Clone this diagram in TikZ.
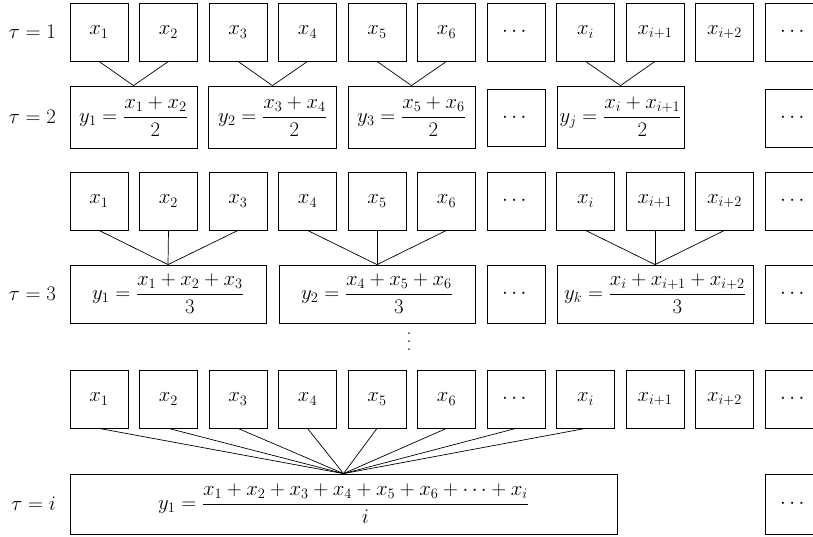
\documentclass[tikz,border=0pt]{standalone}
\usepackage{amsmath}
\usetikzlibrary{positioning}
\tikzset{
  cell/.style={draw, minimum width=58pt, minimum height=58pt, inner sep=0pt},
  mean/.style={draw, minimum height=62pt, inner sep=0pt},
  link/.style={line width=0.7pt},
}
\newcommand{\tallvdots}{\vbox{\baselineskip=8pt\lineskiplimit=0pt\hbox{.}\hbox{.}\hbox{.}}}

\begin{document}
\begin{tikzpicture}[x=1pt, y=-1pt, line width=0.8pt, font=\fontsize{20}{24}\selectfont]
      \useasboundingbox (0,0) rectangle (813,537);
      % tau = 1, single values
      \foreach \n/\lbl [count=\k] in {1/x_1,2/x_2,3/x_3,4/x_4,5/x_5,6/x_6,7/\cdots,8/x_i,9/x_{i+1},10/x_{i+2},11/\cdots}
        \node[cell] (a\n) at ({99+69.5*(\k-1)},32) {$\lbl$};
      \node[left=10pt of a1] (t1) {$\tau = 1$};
      % tau = 2, pairs
      \node[mean, minimum width=127pt] (b1) at (133.5,117) {$y_1 = \dfrac{x_1 + x_2}{2}$};
      \node[mean, minimum width=128pt] (b2) at (272.5,117) {$y_2 = \dfrac{x_3 + x_4}{2}$};
      \node[mean, minimum width=127pt] (b3) at (411.5,117) {$y_3 = \dfrac{x_5 + x_6}{2}$};
      \node[cell, minimum height=57pt] (bd) at (516,117.5) {$\cdots$};
      \node[mean, minimum width=127pt] (bj) at (620.5,117) {$y_j = \dfrac{x_i + x_{i+1}}{2}$};
      \node[cell] (be) at (794,118) {$\cdots$};
      \node[left=10pt of b1] (t2) {$\tau = 2$};
      \foreach \s/\t in {a1/b1,a2/b1,a3/b2,a4/b2,a5/b3,a6/b3,a8/bj,a9/bj}
        \draw[link] (\s.south) -- (\t.north);
      % tau = 3, triples
      \foreach \n/\lbl [count=\k] in {1/x_1,2/x_2,3/x_3,4/x_4,5/x_5,6/x_6,7/\cdots,8/x_i,9/x_{i+1},10/x_{i+2},11/\cdots}
        \node[cell] (c\n) at ({99+69.5*(\k-1)},201) {$\lbl$};
      \node[mean, minimum width=196pt, minimum height=58pt] (d1) at (168,294) {$y_1 = \dfrac{x_1 + x_2 + x_3}{3}$};
      \node[mean, minimum width=196pt, minimum height=58pt] (d2) at (377,294) {$y_2 = \dfrac{x_4 + x_5 + x_6}{3}$};
      \node[cell] (dd) at (516,294) {$\cdots$};
      \node[mean, minimum width=196pt, minimum height=58pt] (dk) at (655,294) {$y_k = \dfrac{x_i + x_{i+1} + x_{i+2}}{3}$};
      \node[cell] (de) at (794,294) {$\cdots$};
      \node[left=10pt of d1] (t3) {$\tau = 3$};
      \foreach \s/\t in {c1/d1,c2/d1,c3/d1,c4/d2,c5/d2,c6/d2,c8/dk,c9/dk,c10/dk}
        \draw[link] (\s.south) -- (\t.north);
      \node (vd) at (409,342) {\tallvdots};
      % tau = i, all values
      \foreach \n/\lbl [count=\k] in {1/x_1,2/x_2,3/x_3,4/x_4,5/x_5,6/x_6,7/\cdots,8/x_i,9/x_{i+1},10/x_{i+2},11/\cdots}
        \node[cell] (e\n) at ({99+69.5*(\k-1)},399) {$\lbl$};
      \node[mean, minimum width=547pt, minimum height=60pt] (f1) at (343.5,504) {$y_1 = \dfrac{x_1 + x_2 + x_3 + x_4 + x_5 + x_6 + \cdots + x_i}{i}$};
      \node[cell, minimum height=60pt] (fe) at (794,504) {$\cdots$};
      \node[left=10pt of f1] (ti) {$\tau = i$};
      \foreach \s in {e1,e2,e3,e4,e5,e6,e7,e8}
        \draw[link] (\s.south) -- (f1.north);
\end{tikzpicture}
\end{document}
